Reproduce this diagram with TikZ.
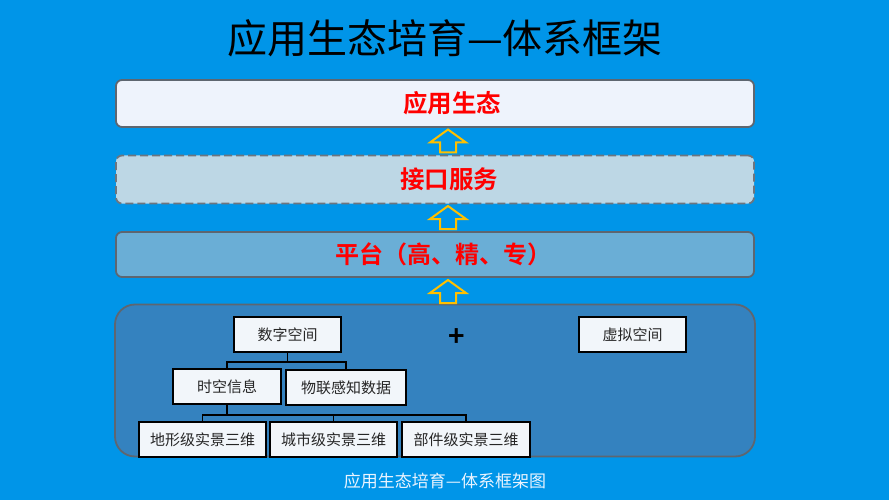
\documentclass[tikz,border=0pt]{standalone}
\usepackage{fontspec}
\setmainfont{Noto Sans CJK SC}
\newfontfamily\cjkbold{Noto Sans CJK SC Bold}
\usetikzlibrary{positioning,calc}
\definecolor{bgblue}{HTML}{0095E8}
\definecolor{boxborder}{HTML}{5E6670}
\definecolor{fillA}{HTML}{EEF3FC}
\definecolor{fillB}{HTML}{BDD7E5}
\definecolor{fillC}{HTML}{6AAED6}
\definecolor{fillD}{HTML}{3482BF}
\definecolor{smallfill}{HTML}{F2F6FA}
\definecolor{arrowyellow}{HTML}{FFC000}
\definecolor{redtext}{HTML}{FF0000}
\definecolor{captiontext}{HTML}{EAF4FF}
\begin{document}
\begin{tikzpicture}[x=1pt,y=-1pt,
  layer/.style={draw=boxborder, line width=1.8pt, rounded corners=6pt, minimum width=638pt, inner sep=0pt},
  layertext/.style={text=redtext, font=\cjkbold\fontsize{24.5}{30}\selectfont, inner sep=0pt},
  leaf/.style={draw=black, line width=1.5pt, fill=smallfill, minimum height=35pt, inner sep=0pt,
     text=black!85, font=\fontsize{15}{18}\selectfont},
  tree/.style={draw=black, line width=1.5pt},
  arrowline/.style={draw=arrowyellow, line width=2pt, line join=miter},
  uparrow/.pic={\draw[arrowline] (-8,11.5) -- (-8,1.5) -- (-18,1.5) -- (0,-11.5) -- (18,1.5) -- (8,1.5) -- (8,11.5) -- cycle;}
]
\useasboundingbox (0,0) rectangle (889,500);
\fill[bgblue] (0,0) rectangle (889,500);

% title
\node (title) at (445,38) {\fontsize{40}{44}\selectfont 应用生态培育—体系框架};

% layers
\node[layer, fill=fillA, minimum height=47pt] (app) at (435,103.5) {};
\node[layer, fill=fillB, minimum height=48pt, dash pattern=on 8pt off 4pt, draw=boxborder!90] (api) at (435,179.5) {};
\node[layer, fill=fillC, minimum height=45pt] (plat) at (435,254.5) {};
\node[draw=boxborder, line width=1.8pt, rounded corners=20pt, fill=fillD, minimum width=640pt, minimum height=152pt, inner sep=0pt] (base) at (435,380.5) {};

\node[layertext] (appt) at ($(app.center)+(17,0)$) {应用生态};
\node[layertext] (apit) at ($(api.center)+(14,0)$) {接口服务};
\node[layertext, font=\cjkbold\fontsize{24}{30}\selectfont] (platt) at ($(plat.center)+(8,0)$) {平台（高、精、专）};

% block arrows
\pic at (448,141) {uparrow};
\pic at (448,217.5) {uparrow};
\pic at (448,291.5) {uparrow};

% inner tree
\node[leaf, minimum width=107pt] (sz) at (287.5,334.5) {数字空间};
\node[leaf, minimum width=107pt] (xn) at (632.5,334.5) {虚拟空间};
\node[inner sep=0pt] (plus) at (457,338) {\cjkbold\fontsize{28}{28}\selectfont +};
\node[leaf, minimum width=108pt] (sk) at (227,386.5) {时空信息};
\node[leaf, minimum width=120pt] (wl) at (346,387.5) {物联感知数据};
\node[leaf, minimum width=127pt] (dx) at (202.5,439.5) {地形级实景三维};
\node[leaf, minimum width=127pt] (cs) at (333.5,439.5) {城市级实景三维};
\node[leaf, minimum width=128pt] (bj) at (466,439.5) {部件级实景三维};

\coordinate (b1) at ($(sz.south)+(0,9)$);
\draw[tree] (sz.south) -- (b1);
\draw[tree] (sk.north) |- (b1) -| (wl.north);
\coordinate (b2) at ($(sk.south)+(0,10)$);
\draw[tree] (sk.south) -- (b2);
\draw[tree] (dx.north) |- (b2) -| (bj.north);
\draw[tree] (cs.north) -- (cs.north |- b2);

% caption
\node[text=captiontext] (cap) at (445,481) {\fontsize{17}{20}\selectfont 应用生态培育—体系框架图};
\end{tikzpicture}
\end{document}
